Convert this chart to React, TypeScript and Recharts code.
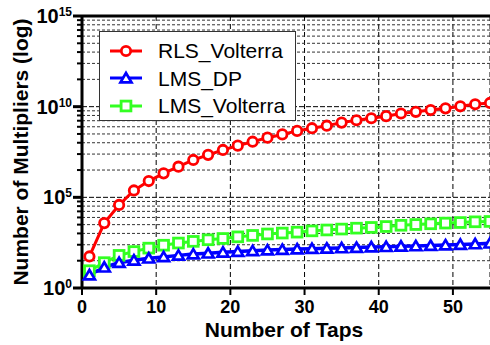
import {
  LineChart,
  Line,
  XAxis,
  YAxis,
  CartesianGrid,
  ReferenceLine,
  Legend,
} from "recharts";

// taps sampled on odd values
const TAPS = [
  1, 3, 5, 7, 9, 11, 13, 15, 17, 19, 21, 23, 25, 27, 29, 31, 33, 35, 37, 39,
  41, 43, 45, 47, 49, 51, 53, 55,
];

const RLS_VOLTERRA = [
  55, 3800, 38000, 2.4e5, 7.9e5, 2.1e6, 4.9e6, 1.15e7, 2.2e7, 4.1e7, 7.1e7,
  1.17e8, 1.95e8, 2.95e8, 4.6e8, 6.5e8, 8.9e8, 1.32e9, 1.78e9, 2.3e9, 3.0e9,
  4.2e9, 5.2e9, 6.5e9, 8.1e9, 1.05e10, 1.35e10, 1.6e10,
];

const LMS_DP = [
  5.2, 14, 25, 34, 44, 52, 63, 74, 83, 93, 102, 112, 123, 132, 141, 148, 155,
  162, 170, 182, 190, 200, 209, 219, 234, 251, 269, 295,
];

const LMS_VOLTERRA = [
  9, 25, 63, 102, 158, 229, 302, 372, 457, 537, 661, 794, 955, 1072, 1202,
  1413, 1585, 1778, 1995, 2188, 2455, 2884, 3162, 3467, 3802, 4074, 4467, 4677,
];

const X_TICKS = [0, 10, 20, 30, 40, 50];
const Y_MAJOR = [1, 1e5, 1e10, 1e15];
// minor grid inside each 5-decade band
const Y_MINOR_STEPS = [32, 243, 1024, 3125, 7776, 16807, 32768, 59049];
const Y_MINOR_BANDS = [1, 1e5, 1e10];
const Y_MINOR = Y_MINOR_BANDS.flatMap((b) => Y_MINOR_STEPS.map((s) => s * b));

const RED = "#ff0000";
const BLUE = "#0000ff";
const GREEN = "#33ff22";
const FONT = "'Liberation Sans', Arial, sans-serif";

const data = TAPS.map((t, i) => ({
  taps: t,
  rls: RLS_VOLTERRA[i],
  dp: LMS_DP[i],
  lmsv: LMS_VOLTERRA[i],
}));

function circleMarker(cx: number, cy: number, color: string) {
  return (
    <circle cx={cx} cy={cy} r={4.7} fill="#fff" stroke={color} strokeWidth={2.8} />
  );
}

function triangleMarker(cx: number, cy: number, color: string) {
  const pts = `${cx},${cy - 5} ${cx + 5.5},${cy + 4.3} ${cx - 5.5},${cy + 4.3}`;
  return (
    <polygon points={pts} fill="#fff" stroke={color} strokeWidth={2.7} strokeLinejoin="miter" />
  );
}

function squareMarker(cx: number, cy: number, color: string) {
  return (
    <rect x={cx - 4.9} y={cy - 4.9} width={9.8} height={9.8} fill="#fff" stroke={color} strokeWidth={2.8} />
  );
}

const SERIES = [
  { key: "rls", name: "RLS_Volterra", color: RED, marker: circleMarker, width: 3 },
  { key: "dp", name: "LMS_DP", color: BLUE, marker: triangleMarker, width: 3.5 },
  { key: "lmsv", name: "LMS_Volterra", color: GREEN, marker: squareMarker, width: 3 },
];

function YTick({ x, y, payload }: any) {
  const v = payload.value;
  if (!Y_MAJOR.includes(v)) {
    return <line x1={x - 5} x2={x} y1={y} y2={y} stroke="#000" strokeWidth={2} />;
  }
  const exp = Math.round(Math.log10(v));
  return (
    <g>
      <line x1={x - 9} x2={x} y1={y} y2={y} stroke="#000" strokeWidth={3} />
      <text
        x={x - 10}
        y={y + 7}
        textAnchor="end"
        fontSize={20}
        fontWeight="bold"
        fill="#000"
        fontFamily={FONT}
      >
        10
        <tspan dy={-7} fontSize={12}>
          {exp}
        </tspan>
      </text>
    </g>
  );
}

function YLabel({ viewBox }: any) {
  const vb = viewBox || { x: 0, y: 16, width: 82, height: 272 };
  const cx = vb.x + 28;
  const cy = vb.y + vb.height / 2;
  return (
    <text
      x={cx}
      y={cy}
      transform={`rotate(-90, ${cx}, ${cy})`}
      textAnchor="middle"
      fontSize={21}
      fontWeight="bold"
      fill="#000"
      fontFamily={FONT}
    >
      Number of Multipliers (log)
    </text>
  );
}

function XLabel({ viewBox }: any) {
  const vb = viewBox || { x: 82, y: 288, width: 408, height: 57 };
  return (
    <text
      x={vb.x + vb.width / 2 - 2}
      y={vb.y + 49}
      textAnchor="middle"
      fontSize={21}
      fontWeight="bold"
      fill="#000"
      fontFamily={FONT}
    >
      Number of Taps
    </text>
  );
}

function LegendBox() {
  return (
    <div
      style={{
        width: 197,
        height: 90,
        boxSizing: "border-box",
        background: "#fff",
        border: "1.5px solid #333",
        paddingTop: 5,
        fontFamily: FONT,
      }}
    >
      {SERIES.map((s) => (
        <div
          key={s.key}
          style={{ display: "flex", alignItems: "center", height: 27.5 }}
        >
          <svg width={50} height={20} style={{ marginLeft: 8 }}>
            <line x1={2} x2={34} y1={10} y2={10} stroke={s.color} strokeWidth={3} />
            {s.marker(18, 10, s.color)}
          </svg>
          <span style={{ fontSize: 21, color: "#000", lineHeight: "21px" }}>
            {s.name}
          </span>
        </div>
      ))}
    </div>
  );
}

export default function App() {
  return (
    <div style={{ position: "absolute", left: 0, top: 0, fontFamily: FONT }}>
      <LineChart
        width={490}
        height={345}
        data={data}
        margin={{ top: 16, right: 0, left: 0, bottom: 0 }}
      >
        <CartesianGrid
          horizontal={false}
          stroke="#000"
          strokeDasharray="5 3"
          strokeWidth={1}
        />
        {Y_MINOR.map((v) => (
          <ReferenceLine
            key={`mn-${v}`}
            y={v}
            stroke="#333"
            strokeDasharray="3 2"
            strokeWidth={1}
          />
        ))}
        {Y_MAJOR.slice(1, 3).map((v) => (
          <ReferenceLine
            key={`mj-${v}`}
            y={v}
            stroke="#000"
            strokeDasharray="5 2"
            strokeWidth={1}
          />
        ))}
        <ReferenceLine y={1e15} stroke="#000" strokeWidth={3} />
        <XAxis
          dataKey="taps"
          type="number"
          domain={[0, 55]}
          ticks={X_TICKS}
          interval={0}
          height={57}
          tickSize={7}
          tickMargin={5}
          axisLine={{ stroke: "#000", strokeWidth: 3 }}
          tickLine={{ stroke: "#000", strokeWidth: 2 }}
          tick={{ fill: "#000", fontSize: 18, fontWeight: "bold", fontFamily: FONT }}
          label={<XLabel />}
        />
        <YAxis
          type="number"
          scale="log"
          domain={[1, 1e15]}
          allowDataOverflow
          ticks={[...Y_MAJOR, ...Y_MINOR]}
          interval={0}
          width={82}
          tickSize={0}
          tickMargin={0}
          axisLine={{ stroke: "#000", strokeWidth: 3 }}
          tickLine={false}
          tick={<YTick />}
          label={<YLabel />}
        />
        {[...SERIES].reverse().map((s) => (
          <Line
            key={s.key}
            dataKey={s.key}
            name={s.name}
            type="linear"
            stroke={s.color}
            strokeWidth={s.width}
            isAnimationActive={false}
            dot={(p: any) => (
              <g key={`${s.key}-${p.index}`}>{s.marker(p.cx, p.cy, s.color)}</g>
            )}
          />
        ))}
        <Legend
          layout="vertical"
          align="center"
          verticalAlign="middle"
          wrapperStyle={{ left: 99, top: 31, width: 197, height: 90 }}
          content={<LegendBox />}
        />
      </LineChart>
    </div>
  );
}
